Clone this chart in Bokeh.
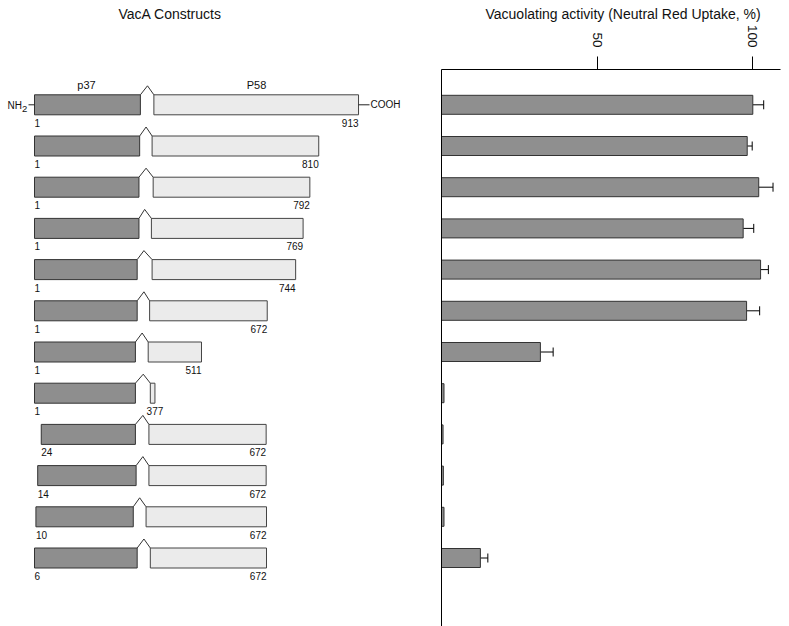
import math
from bokeh.plotting import figure
from bokeh.models import (Range1d, FixedTicker, ColumnDataSource, Whisker, TeeHead,
                          LinearAxis)
from bokeh.core.properties import value
from bokeh.embed import file_html
from bokeh.resources import INLINE

# ---------------- data ----------------
start_labels = ["1", "1", "1", "1", "1", "1", "1", "1", "24", "14", "10", "6"]
end_labels = ["913", "810", "792", "769", "744", "672", "511", "377", "672", "672", "672", "672"]
# drawn extents of the diagram boxes, in residue units
p37_start = [1, 1, 1, 1, 1, 1, 1, 1, 20, 10, 5, 1]
p37_end = [299, 297, 295, 295, 290, 290, 285, 285, 285, 287, 279, 290]
hinge_peak = [319, 315, 315, 311, 309, 309, 304, 307, 306, 306, 297, 309]
p58_start = [337, 332, 335, 330, 332, 325, 321, 327, 323, 323, 315, 327]
p58_end = [913, 801, 776, 757, 736, 656, 471, 340, 653, 653, 654, 654]
# vacuolating activity (%)
activity = [100.1, 98.3, 102.0, 97.0, 102.6, 98.1, 31.8, 0.8, 0.5, 0.6, 0.8, 12.5]
activity_err = [3.5, 1.6, 4.6, 3.4, 2.5, 4.2, 4.1, 0, 0, 0, 0, 2.4]
tick_values = [50, 100]
left_title = "VacA Constructs"
right_title = "Vacuolating activity (Neutral Red Uptake, %)"
domain_labels = ["p37", "P58"]

# ---------------- layout constants ----------------
W, H = 789, 626
SPLIT = 441              # x pixel of the activity axis (0 %)
AXIS_Y = 69              # y pixel of the activity axis line
AXIS_END = 780           # x pixel where the activity axis ends
RES_PX = 0.3553          # pixels per residue
X0_PX = 34.0             # pixel of residue 1
ROW0 = 104.3             # pixel of first row centre
ROW_PX = 41.2            # pixels per row
PX_PER_PCT = (752 - SPLIT) / 100.0
FONT = value("Liberation Sans")
TXT = "#111111"

def res(px):
    return 1 + (px - X0_PX) / RES_PX

def pct(px):
    return (px - SPLIT) / PX_PER_PCT

def rowpos(py):
    return (py - ROW0) / ROW_PX

n = len(end_labels)
rows = list(range(n))
half_box = 10.0 / ROW_PX
hinge_h = 9.0 / ROW_PX
lab_dy = 18.0 / ROW_PX

p = figure(width=W, height=H,
           x_range=Range1d(res(0), res(W)),
           y_range=Range1d(rowpos(H), rowpos(0)),
           x_axis_location=None, y_axis_location=None,
           output_backend="svg", toolbar_location=None, min_border=0)
p.extra_x_ranges = {"act": Range1d(pct(0), pct(W))}
p.grid.visible = False
p.outline_line_color = None

# ---------------- left panel: constructs ----------------
tops = [r - half_box for r in rows]
bots = [r + half_box for r in rows]
p.quad(left=p37_start, right=p37_end, top=tops, bottom=bots,
       fill_color="#8e8e8e", line_color="#333333", line_width=1)
p.quad(left=p58_start, right=p58_end, top=tops, bottom=bots,
       fill_color="#ebebeb", line_color="#444444", line_width=1)
p.multi_line(xs=[[a, b, c] for a, b, c in zip(p37_end, hinge_peak, p58_start)],
             ys=[[t, t - hinge_h, t] for t in tops],
             line_color="#333333", line_width=1)

lab_src = ColumnDataSource(dict(
    xs=p37_start, y=[r + lab_dy for r in rows], s=start_labels))
p.text(x="xs", y="y", text="s", source=lab_src, text_align="left",
       text_baseline="middle", text_font=FONT, text_font_size="10px", text_color=TXT)
idx_main = [i for i in rows if i != 7]
end_src = ColumnDataSource(dict(x=[p58_end[i] for i in idx_main],
                                y=[rows[i] + lab_dy for i in idx_main],
                                t=[end_labels[i] for i in idx_main]))
p.text(x="x", y="y", text="t", source=end_src, text_align="right",
       text_baseline="middle", text_font=FONT, text_font_size="10px", text_color=TXT)
p.text(x=[p58_end[7]], y=[rows[7] + lab_dy], text=[end_labels[7]], text_align="center",
       text_baseline="middle", text_font=FONT, text_font_size="10px", text_color=TXT)

# domain names
p.text(x=[res(86), res(256)], y=[rowpos(84)] * 2, text=domain_labels,
       text_align="center", text_baseline="middle", text_font=FONT,
       text_font_size="11px", text_color=TXT)
# termini
p.segment(x0=[res(28)], y0=[rows[0]], x1=[p37_start[0]], y1=[rows[0]], line_color="#222222")
p.segment(x0=[p58_end[0]], y0=[rows[0]], x1=[p58_end[0] + 11 / RES_PX], y1=[rows[0]],
          line_color="#222222")
p.text(x=[res(21.5)], y=[rows[0] + 1.0 / ROW_PX], text=["NH"], text_align="right",
       text_baseline="middle", text_font=FONT, text_font_size="10px", text_color=TXT)
p.text(x=[res(21.5)], y=[rows[0] + 4.0 / ROW_PX], text=["2"], text_align="left",
       text_baseline="middle", text_font=FONT, text_font_size="9.5px", text_color=TXT)
p.text(x=[p58_end[0] + 12 / RES_PX], y=[rows[0]], text=["COOH"], text_align="left",
       text_baseline="middle", text_font=FONT, text_font_size="10px", text_color=TXT)

# panel titles
p.text(x=[res(118)], y=[rowpos(13)], text=[left_title], text_align="left",
       text_baseline="middle", text_font=FONT, text_font_size="14px", text_color=TXT)
p.text(x=[pct(485)], y=[rowpos(13)], text=[right_title], text_align="left",
       text_baseline="middle", text_font=FONT, text_font_size="14px", text_color=TXT,
       x_range_name="act")

# ---------------- right panel: activity ----------------
xa = LinearAxis(x_range_name="act", fixed_location=rowpos(AXIS_Y),
                bounds=(0, pct(AXIS_END)), ticker=FixedTicker(ticks=tick_values))
xa.minor_tick_line_color = None
xa.major_tick_in = 0
xa.major_tick_out = 13
xa.major_label_standoff = 9
xa.major_label_orientation = -math.pi / 2
xa.major_label_text_font = "Liberation Sans"
xa.major_label_text_font_size = "13.5px"
xa.major_label_text_color = TXT
xa.axis_line_color = "black"
xa.major_tick_line_color = "black"
p.add_layout(xa, "above")

ya = LinearAxis(fixed_location=res(SPLIT), bounds=(rowpos(AXIS_Y), rowpos(H)),
                ticker=FixedTicker(ticks=[]))
ya.major_tick_line_color = None
ya.minor_tick_line_color = None
ya.major_label_text_font_size = "0px"
ya.major_label_standoff = 0
ya.axis_line_color = "black"
p.add_layout(ya, "left")

p.hbar(y=rows, left=0, right=activity, height=19.0 / ROW_PX,
       fill_color="#8f8f8f", line_color="#333333", line_width=1, x_range_name="act")

err_idx = [i for i in rows if activity_err[i] > 0]
err_src = ColumnDataSource(dict(
    y=[rows[i] for i in err_idx],
    lower=[activity[i] for i in err_idx],
    upper=[activity[i] + activity_err[i] for i in err_idx]))
p.add_layout(Whisker(source=err_src, base="y", lower="lower", upper="upper",
                     dimension="width", line_color="black", line_width=1,
                     upper_head=TeeHead(size=9, line_color="black", line_width=1),
                     lower_head=None, x_range_name="act"))

open("out.html", "w").write(file_html(p, INLINE))
